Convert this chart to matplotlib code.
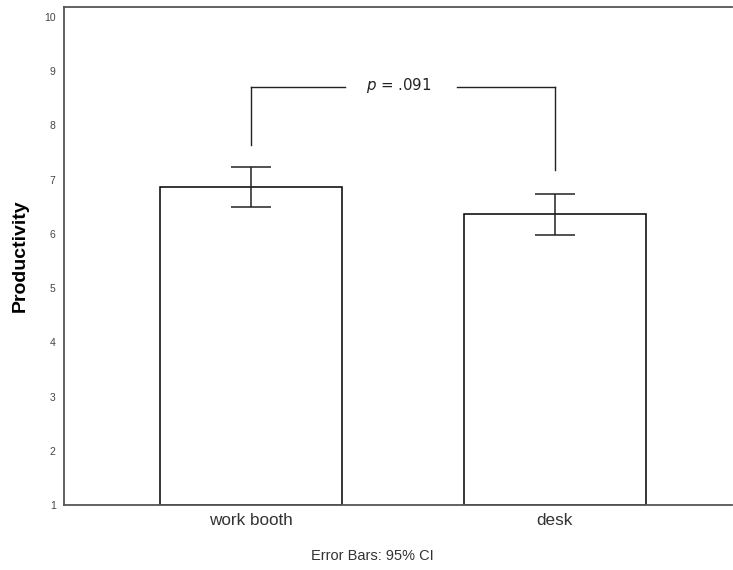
import matplotlib
matplotlib.use("Agg")
from matplotlib import pyplot as plt
import numpy as np

categories = ["work booth", "desk"]
means = [6.87, 6.36]
ci_low = [6.49, 5.97]
ci_high = [7.24, 6.73]
y_ticks = [1, 2, 3, 4, 5, 6, 7, 8, 9, 10]
p_label = "$p$ = .091"
bracket_y = 8.70
bracket_bottoms = [7.63, 7.17]

plt.rcParams['font.family'] = ['Liberation Sans', 'DejaVu Sans']
plt.rcParams['mathtext.fontset'] = 'dejavusans'

fig = plt.figure(figsize=(7.33, 5.7), dpi=100)
ax = fig.add_axes([0.0873, 0.114, 0.911, 0.8737])

x = np.arange(len(categories))
means = np.array(means)
yerr = np.array([means - np.array(ci_low), np.array(ci_high) - means])

ax.bar(x, means - 1, bottom=1, width=0.6, color='white', edgecolor='black', linewidth=1.1, zorder=2)
ax.errorbar(x, means, yerr=yerr, fmt='none', ecolor='#222222', elinewidth=1.1,
            capsize=14.4, capthick=1.1, zorder=3)

# significance bracket
ax.plot([x[0], x[0]], [bracket_bottoms[0], bracket_y], color='#222222', lw=1.0)
ax.plot([x[0], 0.31], [bracket_y, bracket_y], color='#222222', lw=1.0)
ax.plot([0.68, x[1]], [bracket_y, bracket_y], color='#222222', lw=1.0)
ax.plot([x[1], x[1]], [bracket_bottoms[1], bracket_y], color='#222222', lw=1.0)
ax.text(0.485, bracket_y + 0.03, p_label, ha='center', va='center', fontsize=10.8,
        family='DejaVu Sans', color='#222222')

ax.set_xlim(-0.617, 1.584)
ax.set_ylim(1, 10.18)
ax.set_yticks(y_ticks)
ax.set_yticklabels([str(t) for t in y_ticks], fontsize=7.5, color='#444444')
ax.set_xticks(x)
ax.set_xticklabels(categories, fontsize=12.3, color='#333333')
ax.tick_params(axis='both', length=0)
ax.tick_params(axis='y', pad=6)
ax.tick_params(axis='x', pad=6)

ax.set_ylabel("Productivity", fontsize=14, fontweight='bold', va='center')
ax.yaxis.set_label_coords(-0.066, 0.5)

for s in ['left', 'bottom', 'top']:
    ax.spines[s].set_color('#555555')
    ax.spines[s].set_linewidth(1.3)
ax.spines['right'].set_visible(False)

fig.text(0.508, 0.0246, "Error Bars: 95% CI", ha='center', va='center', fontsize=10.5, color='#333333')

fig.savefig("out.png", dpi=100)
